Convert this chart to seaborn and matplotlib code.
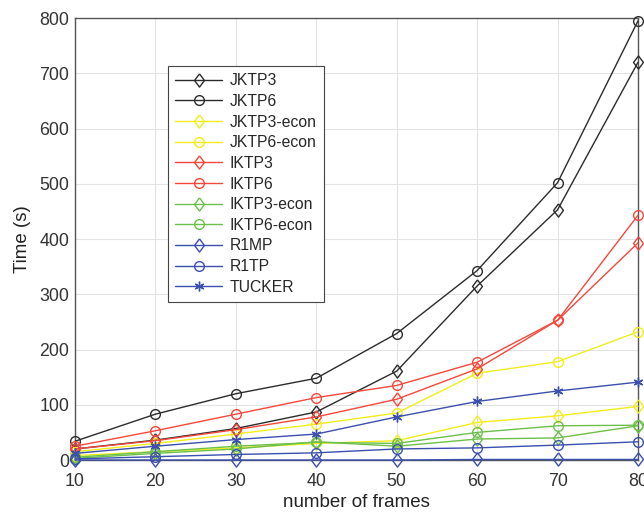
import matplotlib
matplotlib.use("Agg")
import matplotlib.pyplot as plt
import seaborn as sns
import pandas as pd

frames = [10, 20, 30, 40, 50, 60, 70, 80]

jktp3 = [20, 36, 57, 87, 161, 315, 453, 720]
jktp6 = [34, 83, 120, 148, 229, 343, 502, 795]
jktp3_econ = [8, 15, 22, 30, 35, 68, 80, 97]
jktp6_econ = [15, 30, 47, 65, 85, 157, 178, 232]
iktp3 = [20, 35, 55, 78, 110, 165, 253, 393]
iktp6 = [25, 53, 83, 113, 135, 177, 253, 443]
iktp3_econ = [3, 12, 20, 33, 25, 38, 40, 62]
iktp6_econ = [5, 15, 25, 32, 30, 50, 62, 63]
r1mp = [0, 0, 0, 0, 0, 1, 1, 1]
r1tp = [2, 6, 10, 13, 20, 22, 27, 33]
tucker = [12, 25, 37, 47, 78, 106, 125, 141]

names = ["JKTP3", "JKTP6", "JKTP3-econ", "JKTP6-econ", "IKTP3", "IKTP6",
         "IKTP3-econ", "IKTP6-econ", "R1MP", "R1TP", "TUCKER"]
values = [jktp3, jktp6, jktp3_econ, jktp6_econ, iktp3, iktp6,
          iktp3_econ, iktp6_econ, r1mp, r1tp, tucker]

black = "#2b2b2b"
yellow = "#f4ec1a"
red = "#f5473a"
green = "#6cc04a"
blue = "#3a4fb0"
colors = [black, black, yellow, yellow, red, red, green, green, blue, blue, blue]
asterisk = (6, 2, 0)
diamond = [(0, 1), (0.75, 0), (0, -1), (-0.75, 0), (0, 1)]
markers = [diamond, "o", diamond, "o", diamond, "o", diamond, "o",
           diamond, "o", asterisk]

sns.set_theme(style="whitegrid")
plt.rcParams["font.family"] = ["Liberation Sans", "DejaVu Sans"]

fig = plt.figure(figsize=(6.44, 5.16), dpi=100)
ax = fig.add_axes([0.1165, 0.1085, 0.8742, 0.8565])

for name, vals, c, m in zip(names, values, colors, markers):
    df = pd.DataFrame({"frames": frames, "time": vals})
    ms = 9.5 if m is diamond else 7
    sns.lineplot(data=df, x="frames", y="time", ax=ax, color=c, marker=m,
                 markersize=ms, mfc="none", mec=c, mew=1.0, lw=1.0,
                 label=name, clip_on=False, zorder=3)

ax.set_xlim(10, 80)
ax.set_ylim(0, 800)
ax.set_xticks(frames)
ax.set_yticks(range(0, 801, 100))
ax.set_xlabel("number of frames", fontsize=13.5, color="#222222", labelpad=3)
ax.set_ylabel("Time (s)", fontsize=13.5, color="#222222", labelpad=6)
ax.tick_params(axis="both", labelsize=12.8, colors="#333333",
               direction="in", length=4, width=0.8, pad=4)
ax.tick_params(axis="x", pad=9)
ax.grid(True, color="#e3e3e3", lw=0.8)
ax.set_facecolor("white")
for sp in ax.spines.values():
    sp.set_visible(True)
    sp.set_color("#555555")
    sp.set_linewidth(1.0)

leg = ax.legend(loc="upper left", bbox_to_anchor=(0.165, 0.891),
                borderaxespad=0, fontsize=11.3, frameon=True, fancybox=False,
                framealpha=1, edgecolor="#444444", handlelength=3.0,
                labelspacing=0.36, borderpad=0.45, handletextpad=0.5)
leg.get_frame().set_linewidth(0.8)
leg.set_zorder(5)

fig.savefig("out.png", dpi=100)
